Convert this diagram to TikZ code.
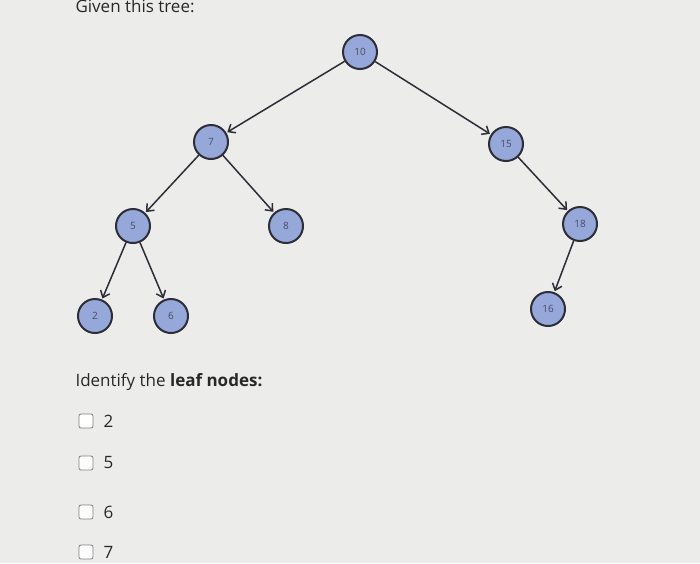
\documentclass[tikz,border=0pt]{standalone}
\usepackage{fontspec}
\setmainfont{Open Sans}
\usetikzlibrary{arrows.meta}
\definecolor{bg}{RGB}{236,236,234}
\definecolor{nfill}{RGB}{150,168,218}
\definecolor{nedge}{RGB}{45,45,55}
\definecolor{txt}{RGB}{40,40,40}
\definecolor{ntxt}{RGB}{70,75,95}
\tikzset{
  tn/.style={circle,draw=nedge,line width=2pt,fill=nfill,minimum size=34pt,inner sep=0pt,font=\fontsize{10}{10}\selectfont,text=ntxt},
  edge/.style={draw=nedge,line width=1.5pt,-{Straight Barb[length=6pt,width=10pt]},shorten >=1pt},
  box/.style={draw=gray,fill=white,rounded corners=2pt,minimum size=14pt,inner sep=0pt,line width=0.8pt},
  lab/.style={anchor=west,font=\fontsize{17}{17}\selectfont,text=txt}
}
\begin{document}
\begin{tikzpicture}[x=1pt,y=-1pt]
\useasboundingbox (0,0) rectangle (700,563);
\fill[bg] (0,0) rectangle (700,563);
\node[lab,anchor=west] (t) at (72,6) {Given this tree:};
\node[tn] (n10) at (360,52) {10};
\node[tn] (n7) at (211,142) {7};
\node[tn] (n15) at (506,144) {15};
\node[tn] (n5) at (133,226) {5};
\node[tn] (n8) at (286,226) {8};
\node[tn] (n18) at (580,224) {18};
\node[tn] (n2) at (95,316) {2};
\node[tn] (n6) at (171,316) {6};
\node[tn] (n16) at (548,309) {16};
\draw[edge] (n10) -- (n7);
\draw[edge] (n10) -- (n15);
\draw[edge] (n7) -- (n5);
\draw[edge] (n7) -- (n8);
\draw[edge] (n15) -- (n18);
\draw[edge] (n5) -- (n2);
\draw[edge] (n5) -- (n6);
\draw[edge] (n18) -- (n16);
\node[lab] (q) at (72,382) {Identify the \textbf{leaf nodes:}};
\node[box] (b1) at (86,421) {}; \node[lab] (l1) at (100,421) {2};
\node[box] (b2) at (86,463) {}; \node[lab] (l2) at (100,463) {5};
\node[box] (b3) at (86,512) {}; \node[lab] (l3) at (100,512) {6};
\node[box] (b4) at (86,552) {}; \node[lab] (l4) at (100,552) {7};
\end{tikzpicture}
\end{document}
